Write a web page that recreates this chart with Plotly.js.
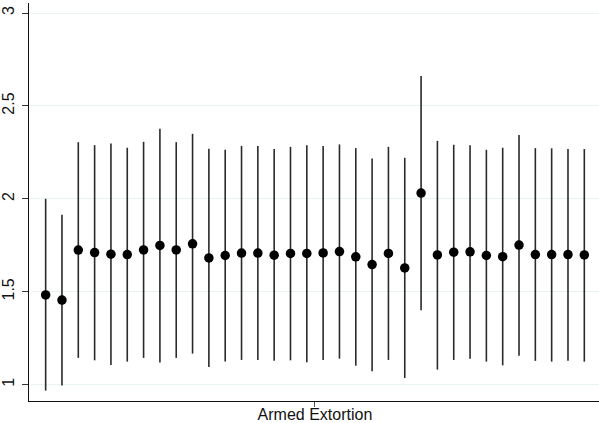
<!DOCTYPE html>
<html>
<head>
<meta charset="utf-8">
<script src="https://cdn.plot.ly/plotly-3.0.1.min.js"></script>
<style>html,body{margin:0;padding:0;background:#fff;}#chart{width:599px;height:423px;}</style>
</head>
<body>
<div id="chart"></div>
<script>
// Category and tick label
var categoryLabel = "Armed Extortion";
// Point estimates (one per dodged series)
var estimates = [1.483, 1.455, 1.724, 1.711, 1.702, 1.700, 1.725, 1.749, 1.725, 1.758,
                 1.682, 1.695, 1.708, 1.708, 1.697, 1.706, 1.706, 1.709, 1.716, 1.688,
                 1.646, 1.706, 1.628, 2.031, 1.698, 1.713, 1.715, 1.695, 1.689, 1.751,
                 1.700, 1.700, 1.700, 1.698];
// Upper confidence bounds
var upper = [2.000, 1.914, 2.305, 2.289, 2.298, 2.275, 2.307, 2.377, 2.305, 2.350,
             2.269, 2.264, 2.285, 2.285, 2.268, 2.280, 2.289, 2.284, 2.293, 2.273,
             2.217, 2.280, 2.221, 2.661, 2.312, 2.291, 2.289, 2.264, 2.275, 2.343,
             2.273, 2.272, 2.268, 2.268];
// Lower confidence bounds
var lower = [0.968, 0.995, 1.144, 1.131, 1.106, 1.124, 1.144, 1.119, 1.144, 1.167,
             1.095, 1.124, 1.133, 1.133, 1.128, 1.131, 1.121, 1.133, 1.140, 1.102,
             1.072, 1.133, 1.036, 1.400, 1.081, 1.133, 1.140, 1.124, 1.104, 1.156,
             1.128, 1.124, 1.128, 1.124];
var yTicks = [1, 1.5, 2, 2.5, 3];
var yTickText = ["1", "1.5", "2", "2.5", "3"];

var xs = estimates.map(function(_, i){ return i; });
var center = (estimates.length - 1) / 2;

var trace = {
  x: xs,
  y: estimates,
  type: 'scatter',
  mode: 'markers',
  marker: {color: '#000', size: 9.5},
  error_y: {
    type: 'data',
    symmetric: false,
    array: upper.map(function(u, i){ return u - estimates[i]; }),
    arrayminus: lower.map(function(l, i){ return estimates[i] - l; }),
    color: '#2a2a2a',
    thickness: 1.6,
    width: 0
  },
  hoverinfo: 'skip'
};

var layout = {
  width: 599, height: 423,
  margin: {l: 29, r: 0, t: 3, b: 22},
  paper_bgcolor: '#fff', plot_bgcolor: '#fff',
  showlegend: false,
  font: {family: 'Liberation Sans, Arial, sans-serif', size: 16, color: '#111'},
  xaxis: {
    range: [-1.02, 33.9],
    tickvals: [center], ticktext: [categoryLabel],
    ticks: 'outside', ticklen: 5, tickwidth: 1, tickcolor: '#555',
    ticklabelstandoff: -6,
    showgrid: false, zeroline: false,
    showline: true, linecolor: '#111', linewidth: 1.2,
    tickfont: {size: 16}
  },
  yaxis: {
    range: [0.912, 3.054],
    tickvals: yTicks, ticktext: yTickText,
    tickangle: -90,
    ticks: 'outside', ticklen: 6, tickwidth: 1, tickcolor: '#333',
    ticklabelstandoff: 1,
    showgrid: true, gridcolor: '#eaf2f3', gridwidth: 1,
    zeroline: false,
    showline: true, linecolor: '#111', linewidth: 1.2,
    tickfont: {size: 16}
  }
};

Plotly.newPlot('chart', [trace], layout, {displayModeBar: false, staticPlot: true});
</script>
</body>
</html>
